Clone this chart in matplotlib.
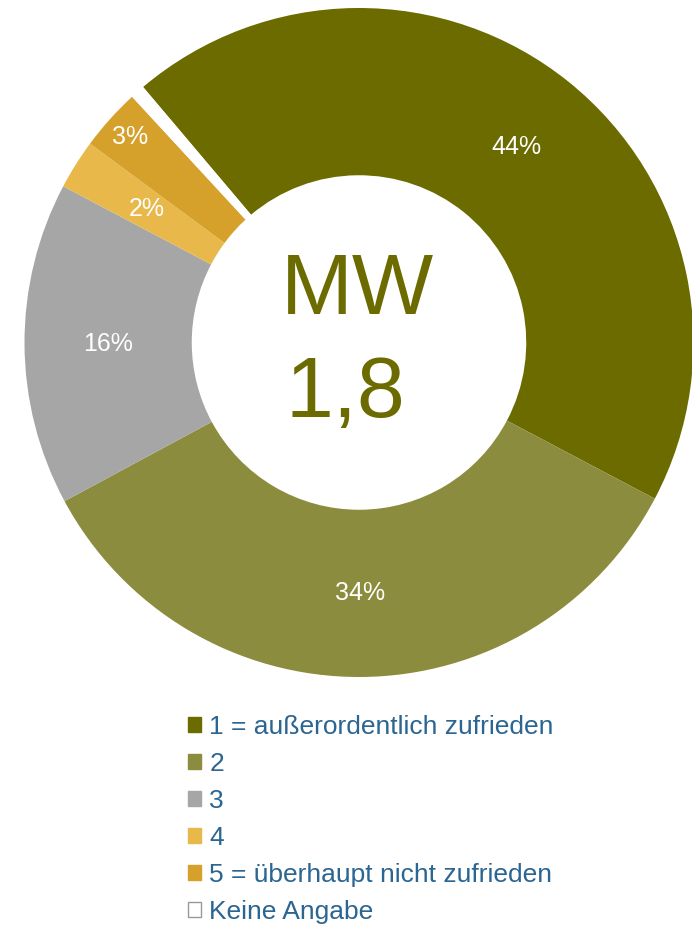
import matplotlib
matplotlib.use("Agg")
import matplotlib.pyplot as plt
from matplotlib.patches import Patch
import numpy as np

# answer categories and shares (percent)
labels = [
    "1 = außerordentlich zufrieden",
    "2",
    "3",
    "4",
    "5 = überhaupt nicht zufrieden",
    "Keine Angabe",
]
shares = [43.9, 34.4, 15.6, 2.4, 3.0, 0.7]
colours = ["#6b6b00", "#8c8c3e", "#a6a6a6", "#e8b84a", "#d5a12a", "#ffffff"]
mean_label = "MW"
mean_value = "1,8"


def main() -> None:
    plt.rcParams["font.family"] = ["Liberation Sans", "DejaVu Sans"]
    fig = plt.figure(figsize=(6.92, 9.25), dpi=100)

    # donut: centre (359, 342.5) px, radius 334.5 px
    W, H = 692, 925
    cx, cy, r = 359, 342.5, 334.5
    ax = fig.add_axes([(cx - r) / W, (H - cy - r) / H, 2 * r / W, 2 * r / H])

    wedges, _, autotexts = ax.pie(
        shares,
        colors=colours,
        startangle=130.2,
        counterclock=False,
        radius=1.0,
        wedgeprops=dict(width=0.5, linewidth=0),
        autopct=lambda p: "%.0f%%" % p if p >= 1 else "",
        pctdistance=0.75,
        textprops=dict(color="white", fontsize=18),
    )
    ax.set_xlim(-1, 1)
    ax.set_ylim(-1, 1)
    ax.axis("off")

    # the small "5" label sits further out
    w = wedges[4]
    mid = np.deg2rad((w.theta1 + w.theta2) / 2)
    autotexts[4].set_position((0.92 * np.cos(mid), 0.92 * np.sin(mid)))

    ax.text(-0.006, 0.085, mean_label, ha="center", va="baseline",
            fontsize=62, color="#6b6b00")
    ax.text(-0.042, -0.224, mean_value, ha="center", va="baseline",
            fontsize=62, color="#6b6b00")

    handles = [Patch(facecolor=c, edgecolor=c) for c in colours[:-1]]
    handles.append(Patch(facecolor="white", edgecolor="#999999", linewidth=1))
    fig.legend(
        handles,
        labels,
        loc="upper left",
        bbox_to_anchor=(175 / W, 1 - 702 / H),
        frameon=False,
        fontsize=19,
        labelcolor="#2b6592",
        handlelength=0.5,
        handleheight=0.5,
        handletextpad=0.3,
        labelspacing=0.49,
        borderpad=0,
    )

    fig.savefig("out.png", dpi=100)


if __name__ == "__main__":
    main()
